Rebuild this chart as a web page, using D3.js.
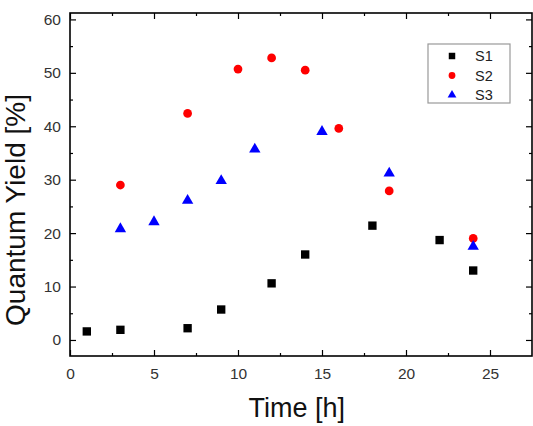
<!DOCTYPE html>
<html>
<head>
<meta charset="utf-8">
<script src="https://cdn.jsdelivr.net/npm/d3@7"></script>
<style>
  body { margin: 0; background: #fff; }
  svg { display: block; font-family: "Liberation Sans", Arial, sans-serif; }
</style>
</head>
<body>
<div id="chart"></div>
<script>
// data
var s1_time = [1, 3, 7, 9, 12, 14, 18, 22, 24];
var s1_yield = [1.6, 1.9, 2.2, 5.7, 10.6, 16.0, 21.4, 18.7, 13.0];
var s2_time = [3, 7, 10, 12, 14, 16, 19, 24];
var s2_yield = [29.0, 42.4, 50.7, 52.8, 50.5, 39.6, 27.9, 19.0];
var s3_time = [3, 5, 7, 9, 11, 15, 19, 24];
var s3_yield = [20.8, 22.1, 26.1, 29.8, 35.7, 39.0, 31.2, 17.5];
var series_names = ["S1", "S2", "S3"];
var x_ticks = [0, 5, 10, 15, 20, 25];
var y_ticks = [0, 10, 20, 30, 40, 50, 60];

var width = 533,
    height = 426;
var margin = { top: 13, right: 1, bottom: 70, left: 70 };

var svg = d3.select("#chart")
    .append("svg")
    .attr("width", width)
    .attr("height", height);

var x = d3.scaleLinear()
    .domain([0, 27.5])
    .range([margin.left, width - margin.right]);

var y = d3.scaleLinear()
    .domain([-3, 61.2])
    .range([height - margin.bottom, margin.top]);

var color = d3.scaleOrdinal()
    .domain(series_names)
    .range(["#000000", "#ff0000", "#0000ff"]);

var shape = d3.scaleOrdinal()
    .domain(series_names)
    .range([d3.symbolSquare, d3.symbolCircle, d3.symbolTriangle]);

var sizes = { S1: 70, S2: 60, S3: 56 };

// minor tick values
var x_minor = d3.range(2.5, 27.5, 5);
var y_minor = d3.range(5, 61, 10);

var bottom = height - margin.bottom,
    right = width - margin.right;

function styleAxis(g) {
    g.select(".domain").remove();
    g.selectAll(".tick line").attr("stroke", "#000").attr("stroke-width", 1.2);
    g.selectAll(".tick text")
        .attr("fill", "#333")
        .attr("font-size", "15.5px")
        .attr("font-family", "'Liberation Sans', Arial, sans-serif");
}

// bottom axis
svg.append("g")
    .attr("transform", "translate(0," + bottom + ")")
    .call(d3.axisBottom(x).tickValues(x_ticks).tickSize(-6).tickPadding(12))
    .call(styleAxis);
svg.append("g")
    .attr("transform", "translate(0," + bottom + ")")
    .call(d3.axisBottom(x).tickValues(x_minor).tickSize(-3).tickFormat(""))
    .call(styleAxis);

// top axis
svg.append("g")
    .attr("transform", "translate(0," + margin.top + ")")
    .call(d3.axisTop(x).tickValues(x_ticks).tickSize(-6).tickFormat(""))
    .call(styleAxis);
svg.append("g")
    .attr("transform", "translate(0," + margin.top + ")")
    .call(d3.axisTop(x).tickValues(x_minor).tickSize(-3).tickFormat(""))
    .call(styleAxis);

// left axis
svg.append("g")
    .attr("transform", "translate(" + margin.left + ",0)")
    .call(d3.axisLeft(y).tickValues(y_ticks).tickSize(-6).tickPadding(9))
    .call(styleAxis);
svg.append("g")
    .attr("transform", "translate(" + margin.left + ",0)")
    .call(d3.axisLeft(y).tickValues(y_minor).tickSize(-3).tickFormat(""))
    .call(styleAxis);

// right axis
svg.append("g")
    .attr("transform", "translate(" + right + ",0)")
    .call(d3.axisRight(y).tickValues(y_ticks).tickSize(-6).tickFormat(""))
    .call(styleAxis);
svg.append("g")
    .attr("transform", "translate(" + right + ",0)")
    .call(d3.axisRight(y).tickValues(y_minor).tickSize(-3).tickFormat(""))
    .call(styleAxis);

// frame
svg.append("rect")
    .attr("x", margin.left)
    .attr("y", margin.top)
    .attr("width", right - margin.left)
    .attr("height", bottom - margin.top)
    .attr("fill", "none")
    .attr("stroke", "#000")
    .attr("stroke-width", 1.6);

// points
var all_series = [
    { name: "S1", t: s1_time, v: s1_yield },
    { name: "S2", t: s2_time, v: s2_yield },
    { name: "S3", t: s3_time, v: s3_yield }
];

all_series.forEach(function (s) {
    var pts = s.t.map(function (t, i) { return { t: t, v: s.v[i] }; });
    svg.append("g")
        .attr("class", "series-" + s.name)
        .selectAll("path")
        .data(pts)
        .enter()
        .append("path")
        .attr("d", d3.symbol().type(shape(s.name)).size(sizes[s.name]))
        .attr("transform", d => "translate(" + x(d.t) + "," + y(d.v) + ")")
        .attr("fill", color(s.name));
});

// legend
var legend = svg.append("g")
    .attr("class", "legend")
    .attr("transform", "translate(428,44)");

legend.append("rect")
    .attr("width", 82)
    .attr("height", 59)
    .attr("fill", "#fff")
    .attr("stroke", "#999")
    .attr("stroke-width", 1.2);

series_names.forEach(function (name, i) {
    var row = legend.append("g")
        .attr("transform", "translate(0," + (12 + i * 19.5) + ")");
    row.append("path")
        .attr("d", d3.symbol().type(shape(name)).size(sizes[name] * 0.6))
        .attr("transform", "translate(24,0)")
        .attr("fill", color(name));
    row.append("text")
        .attr("x", 47)
        .attr("y", 0)
        .attr("dy", "0.35em")
        .attr("font-size", "14.5px")
        .attr("fill", "#222")
        .text(name);
});

// axis titles
svg.append("text")
    .attr("x", x(13.5))
    .attr("y", 417)
    .attr("text-anchor", "middle")
    .attr("font-size", "27px")
    .attr("fill", "#111")
    .text("Time [h]");

svg.append("text")
    .attr("transform", "translate(25,210) rotate(-90)")
    .attr("text-anchor", "middle")
    .attr("font-size", "28px")
    .attr("fill", "#111")
    .text("Quantum Yield [%]");
</script>
</body>
</html>
